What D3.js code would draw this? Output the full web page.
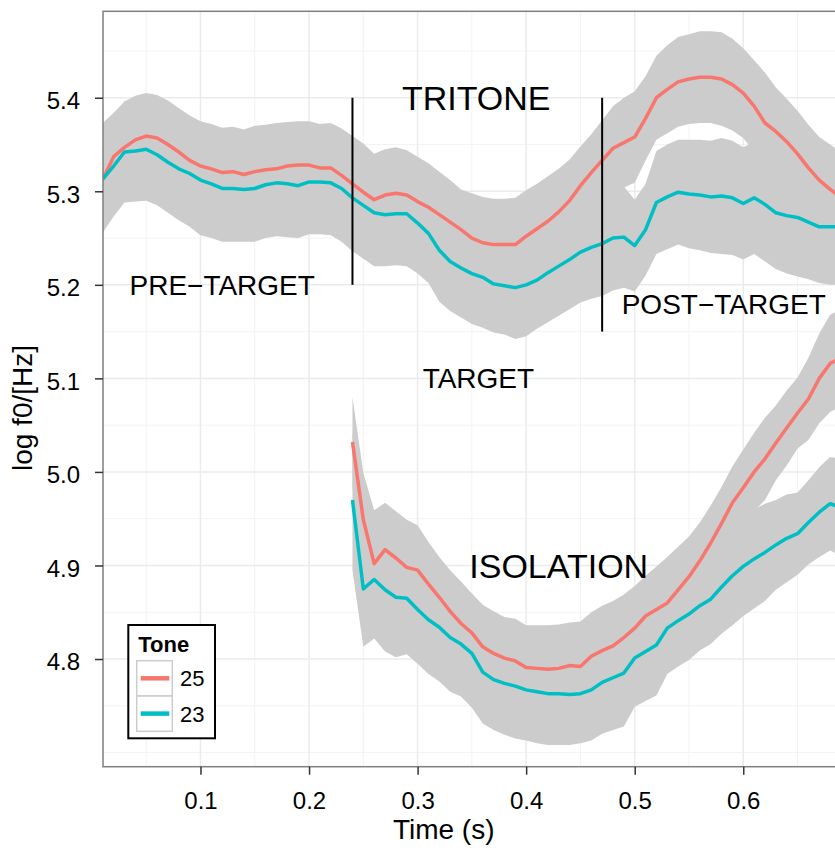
<!DOCTYPE html>
<html>
<head>
<meta charset="utf-8">
<script src="https://cdn.jsdelivr.net/npm/d3@7"></script>
<style>
  body { margin: 0; background: #fff; }
  svg { display: block; font-family: "Liberation Sans", Arial, Helvetica, sans-serif; }
</style>
</head>
<body>
<svg id="chart" width="835" height="850"></svg>
<script>
// ---- data: smoothed log f0 means with half-width of the confidence band ----

// Tone categories (legend order)
const tones = ["25", "23"];
const toneColors = ["#F8766D", "#00BFC4"];

// Tritone context: time grid (s)
const timeContext = [0.01,0.02,0.03,0.04,0.05,0.06,0.07,0.08,0.09,0.10,
  0.11,0.12,0.13,0.14,0.15,0.16,0.17,0.18,0.19,0.20,
  0.21,0.22,0.23,0.24,0.25,0.26,0.27,0.28,0.29,0.30,
  0.31,0.32,0.33,0.34,0.35,0.36,0.37,0.38,0.39,0.40,
  0.41,0.42,0.43,0.44,0.45,0.46,0.47,0.48,0.49,0.50,
  0.51,0.52,0.53,0.54,0.55,0.56,0.57,0.58,0.59,0.60,
  0.61,0.62,0.63,0.64,0.65,0.66,0.67,0.68,0.69];

const context25 = [5.313,5.337,5.347,5.355,5.359,5.357,5.350,5.342,5.333,5.327,
  5.324,5.320,5.321,5.318,5.321,5.323,5.324,5.327,5.328,5.328,
  5.325,5.325,5.317,5.308,5.299,5.291,5.296,5.298,5.296,5.289,
  5.283,5.275,5.267,5.259,5.250,5.245,5.243,5.243,5.243,5.252,
  5.260,5.268,5.278,5.290,5.306,5.320,5.333,5.346,5.352,5.358,
  5.378,5.400,5.409,5.417,5.420,5.422,5.422,5.420,5.414,5.405,
  5.391,5.373,5.364,5.353,5.340,5.325,5.312,5.302,5.294];

const context23 = [5.313,5.327,5.342,5.343,5.345,5.339,5.331,5.324,5.319,5.312,
  5.308,5.303,5.303,5.302,5.303,5.307,5.309,5.308,5.306,5.310,
  5.310,5.309,5.303,5.293,5.285,5.277,5.275,5.276,5.276,5.266,
  5.255,5.237,5.225,5.218,5.212,5.208,5.201,5.199,5.197,5.200,
  5.205,5.213,5.220,5.227,5.235,5.240,5.244,5.250,5.251,5.242,
  5.259,5.288,5.294,5.299,5.297,5.296,5.294,5.295,5.293,5.287,
  5.293,5.286,5.277,5.274,5.272,5.267,5.262,5.262,5.262];

const contextCi25 = [0.060,0.047,0.049,0.047,0.046,0.046,0.047,0.047,0.048,0.048,
  0.048,0.048,0.048,0.048,0.049,0.048,0.049,0.047,0.047,0.047,
  0.047,0.048,0.050,0.051,0.052,0.049,0.049,0.049,0.048,0.048,
  0.047,0.046,0.045,0.043,0.048,0.049,0.049,0.049,0.050,0.049,
  0.048,0.048,0.046,0.044,0.042,0.041,0.043,0.045,0.048,0.049,
  0.045,0.045,0.047,0.048,0.048,0.049,0.049,0.050,0.049,0.048,
  0.049,0.054,0.047,0.046,0.046,0.046,0.046,0.048,0.048];

const contextCi23 = [0.057,0.054,0.054,0.054,0.055,0.054,0.054,0.055,0.057,0.059,
  0.058,0.057,0.057,0.056,0.057,0.057,0.057,0.057,0.056,0.056,
  0.056,0.056,0.057,0.057,0.057,0.057,0.055,0.055,0.056,0.054,
  0.053,0.055,0.053,0.053,0.054,0.054,0.052,0.052,0.055,0.055,
  0.052,0.053,0.053,0.053,0.054,0.055,0.056,0.056,0.054,0.049,
  0.049,0.055,0.056,0.056,0.058,0.059,0.060,0.062,0.061,0.060,
  0.060,0.061,0.060,0.062,0.063,0.061,0.060,0.062,0.062];

// Isolation: time grid (s)
const timeIsolation = [0.24,0.25,0.26,0.27,0.28,0.29,0.30,0.31,0.32,0.33,
  0.34,0.35,0.36,0.37,0.38,0.39,0.40,0.41,0.42,0.43,
  0.44,0.45,0.46,0.47,0.48,0.49,0.50,0.51,0.52,0.53,
  0.54,0.55,0.56,0.57,0.58,0.59,0.60,0.61,0.62,0.63,
  0.64,0.65,0.66,0.67,0.68,0.69];

const isolation25 = [5.032,4.949,4.902,4.917,4.908,4.898,4.895,4.880,4.866,4.851,
  4.838,4.828,4.813,4.806,4.801,4.798,4.791,4.790,4.789,4.790,
  4.793,4.792,4.803,4.809,4.814,4.823,4.833,4.846,4.853,4.860,
  4.874,4.888,4.905,4.924,4.945,4.967,4.983,5.000,5.014,5.031,
  5.047,5.063,5.078,5.100,5.116,5.122];

const isolation23 = [4.970,4.875,4.885,4.874,4.866,4.865,4.853,4.842,4.834,4.823,
  4.816,4.806,4.786,4.778,4.774,4.771,4.767,4.765,4.763,4.763,
  4.762,4.763,4.767,4.775,4.780,4.785,4.801,4.808,4.815,4.833,
  4.841,4.848,4.857,4.864,4.877,4.889,4.899,4.907,4.914,4.922,
  4.929,4.934,4.946,4.957,4.966,4.962];

const isolationCi25 = [0.048,0.050,0.057,0.050,0.050,0.051,0.048,0.045,0.043,0.044,
  0.045,0.042,0.045,0.045,0.044,0.045,0.045,0.046,0.047,0.047,
  0.046,0.048,0.047,0.048,0.048,0.046,0.045,0.043,0.046,0.049,
  0.046,0.043,0.041,0.040,0.039,0.039,0.041,0.042,0.044,0.040,
  0.040,0.038,0.044,0.048,0.052,0.052];

const isolationCi23 = [0.075,0.062,0.063,0.066,0.064,0.060,0.058,0.058,0.058,0.058,
  0.056,0.058,0.055,0.054,0.055,0.056,0.054,0.055,0.055,0.055,
  0.054,0.053,0.054,0.055,0.056,0.057,0.052,0.053,0.054,0.049,
  0.049,0.049,0.048,0.048,0.050,0.053,0.053,0.053,0.052,0.048,
  0.047,0.044,0.045,0.048,0.050,0.052];

// Axis ticks
const xTicks = [0.1, 0.2, 0.3, 0.4, 0.5, 0.6];
const xMinor = [0.05, 0.15, 0.25, 0.35, 0.45, 0.55, 0.65];
const yTicks = [4.8, 4.9, 5.0, 5.1, 5.2, 5.3, 5.4];
const yMinor = [4.70, 4.75, 4.85, 4.95, 5.05, 5.15, 5.25, 5.35, 5.45];

// Annotations (data coordinates)
const labelText = ["PRE\u2212TARGET", "TRITONE", "TARGET", "POST\u2212TARGET", "ISOLATION"];
const labelX = [0.120, 0.354, 0.356, 0.582, 0.430];
const labelY = [5.20, 5.40, 5.10, 5.18, 4.90];
const boundaryX = [0.24, 0.47];
const boundaryY0 = [5.20, 5.15];
const boundaryY1 = [5.40, 5.40];

// ---- layout ----
const svg = d3.select("#chart");
const P = { left: 103, right: 835, top: 11.3, bottom: 766.7 };

const x = d3.scaleLinear().domain([0.0102, 0.6845]).range([P.left, P.right]);
const y = d3.scaleLinear().domain([4.6849, 5.4924]).range([P.bottom, P.top]);

svg.append("rect").attr("width", 835).attr("height", 850).attr("fill", "#fff");

svg.append("defs").append("clipPath").attr("id", "panelClip")
  .append("rect")
  .attr("x", P.left).attr("y", P.top)
  .attr("width", P.right - P.left).attr("height", P.bottom - P.top);

// grid
const grid = svg.append("g");
grid.selectAll(".vminor").data(xMinor).join("line")
  .attr("x1", d => x(d)).attr("x2", d => x(d))
  .attr("y1", P.top).attr("y2", P.bottom)
  .attr("stroke", "#f3f3f3").attr("stroke-width", 1);
grid.selectAll(".hminor").data(yMinor).join("line")
  .attr("x1", P.left).attr("x2", P.right)
  .attr("y1", d => y(d)).attr("y2", d => y(d))
  .attr("stroke", "#f3f3f3").attr("stroke-width", 1);
grid.selectAll(".vmajor").data(xTicks).join("line")
  .attr("x1", d => x(d)).attr("x2", d => x(d))
  .attr("y1", P.top).attr("y2", P.bottom)
  .attr("stroke", "#ebebeb").attr("stroke-width", 1.5);
grid.selectAll(".hmajor").data(yTicks).join("line")
  .attr("x1", P.left).attr("x2", P.right)
  .attr("y1", d => y(d)).attr("y2", d => y(d))
  .attr("stroke", "#ebebeb").attr("stroke-width", 1.5);

// series
function rows(times, mean, ci) {
  return times.map((t, i) => ({ t, m: mean[i], c: ci[i] }));
}
const series = [
  { tone: 0, data: rows(timeContext, context25, contextCi25) },
  { tone: 1, data: rows(timeContext, context23, contextCi23) },
  { tone: 0, data: rows(timeIsolation, isolation25, isolationCi25) },
  { tone: 1, data: rows(timeIsolation, isolation23, isolationCi23) }
];

const plot = svg.append("g").attr("clip-path", "url(#panelClip)");

const band = d3.area()
  .x(d => x(d.t))
  .y0(d => y(d.m - d.c))
  .y1(d => y(d.m + d.c));
const line = d3.line().x(d => x(d.t)).y(d => y(d.m));

plot.selectAll(".band").data(series).join("path")
  .attr("d", s => band(s.data))
  .attr("fill", "#cccccc");

plot.selectAll(".mean").data(series).join("path")
  .attr("d", s => line(s.data))
  .attr("fill", "none")
  .attr("stroke", s => toneColors[s.tone])
  .attr("stroke-width", 3.5)
  .attr("stroke-linejoin", "round");

// section boundaries
plot.selectAll(".boundary").data(boundaryX).join("line")
  .attr("x1", d => x(d)).attr("x2", d => x(d))
  .attr("y1", (d, i) => y(boundaryY0[i])).attr("y2", (d, i) => y(boundaryY1[i]))
  .attr("stroke", "#000").attr("stroke-width", 2);

// section labels
const bigLabels = new Set(["TRITONE", "ISOLATION"]);
svg.append("g").selectAll("text").data(labelText).join("text")
  .attr("x", (d, i) => x(labelX[i]))
  .attr("y", (d, i) => y(labelY[i]))
  .attr("dy", "0.36em")
  .attr("text-anchor", "middle")
  .attr("font-size", d => bigLabels.has(d) ? 34 : 28)
  .attr("fill", "#000")
  .text(d => d);

// panel outline
svg.append("rect")
  .attr("x", P.left).attr("y", P.top)
  .attr("width", P.right - P.left + 20).attr("height", P.bottom - P.top)
  .attr("fill", "none").attr("stroke", "#7f7f7f").attr("stroke-width", 1.5);

// axes
const xAxis = svg.append("g").attr("transform", `translate(0,${P.bottom})`)
  .call(d3.axisBottom(x).tickValues(xTicks).tickFormat(d3.format(".1f"))
    .tickSize(8).tickPadding(17));
const yAxis = svg.append("g").attr("transform", `translate(${P.left},0)`)
  .call(d3.axisLeft(y).tickValues(yTicks).tickFormat(d3.format(".1f"))
    .tickSize(8).tickPadding(15));
[xAxis, yAxis].forEach(g => {
  g.select(".domain").remove();
  g.selectAll(".tick line").attr("stroke", "#333").attr("stroke-width", 1.5);
  g.selectAll(".tick text").attr("fill", "#000").attr("font-size", 24)
    .attr("font-family", "Liberation Sans, Arial, sans-serif");
});
yAxis.selectAll(".tick text").attr("dy", "0.45em");

// axis titles
svg.append("text")
  .attr("x", 443.7).attr("y", 839.3)
  .attr("text-anchor", "middle").attr("font-size", 28).attr("fill", "#000")
  .text("Time (s)");
svg.append("text")
  .attr("transform", "translate(32,408) rotate(-90)")
  .attr("text-anchor", "middle").attr("font-size", 28).attr("fill", "#000")
  .text("log f0/[Hz]");

// legend
const legend = svg.append("g");
legend.append("rect")
  .attr("x", 128.3).attr("y", 625).attr("width", 86.7).attr("height", 113.3)
  .attr("fill", "#fff").attr("stroke", "#000").attr("stroke-width", 2);
legend.append("text")
  .attr("x", 138.3).attr("y", 651.7)
  .attr("font-size", 22).attr("font-weight", "bold").attr("fill", "#000")
  .text("Tone");
const keys = legend.selectAll(".key").data(tones).join("g")
  .attr("transform", (d, i) => `translate(136.7,${660.7 + i * 35.3})`);
keys.append("rect")
  .attr("width", 35.6).attr("height", 35.3)
  .attr("fill", "#fff").attr("stroke", "#cccccc").attr("stroke-width", 1.5);
keys.append("line")
  .attr("x1", 4).attr("x2", 32.6).attr("y1", 17.6).attr("y2", 17.6)
  .attr("stroke", (d, i) => toneColors[i]).attr("stroke-width", 4.5);
keys.append("text")
  .attr("x", 43.3).attr("y", 25.5)
  .attr("font-size", 22).attr("fill", "#000")
  .text(d => d);
</script>
</body>
</html>
